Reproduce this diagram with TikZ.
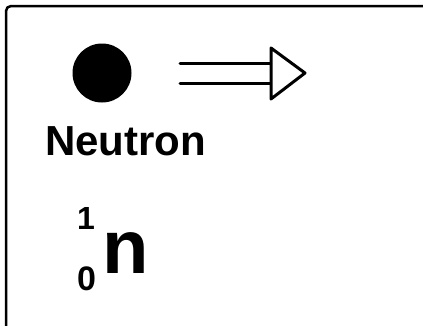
\documentclass[tikz,border=0pt]{standalone}
\usepackage{fontspec}
\setmainfont{Liberation Sans}
\begin{document}
\begin{tikzpicture}[x=1pt,y=-1pt,
  frame/.style={draw=black,line width=2.5pt,rounded corners=5pt},
  txt/.style={inner sep=0pt,anchor=base west,font=\bfseries},
  arrowline/.style={draw=black,line width=3pt,line cap=round,line join=round}]
\useasboundingbox (0,0) rectangle (423,325);
\draw[frame] (6,6) rectangle (440,340);
\node[circle,fill=black,minimum size=59pt,inner sep=0pt] (ball) at (102,73) {};
\coordinate (a1) at (180,63);
\coordinate (b1) at (271,63);
\coordinate (a2) at (180,83);
\coordinate (b2) at (271,83);
\coordinate (t1) at (271,48);
\coordinate (tip) at (305,73);
\coordinate (t2) at (271,99);
\draw[arrowline] (a1) -- (b1);
\draw[arrowline] (a2) -- (b2);
\draw[arrowline,fill=white] (t1) -- (tip) -- (t2) -- cycle;
\node[txt,font=\bfseries\fontsize{42}{42}\selectfont] (name) at (45,155) {Neutron};
\node[txt,font=\bfseries\fontsize{32}{32}\selectfont] (mass) at (77,229) {1};
\node[txt,font=\bfseries\fontsize{34}{34}\selectfont] (charge) at (77,290) {0};
\node[txt,font=\bfseries\fontsize{76}{76}\selectfont] (sym) at (102,273) {n};
\end{tikzpicture}
\end{document}
